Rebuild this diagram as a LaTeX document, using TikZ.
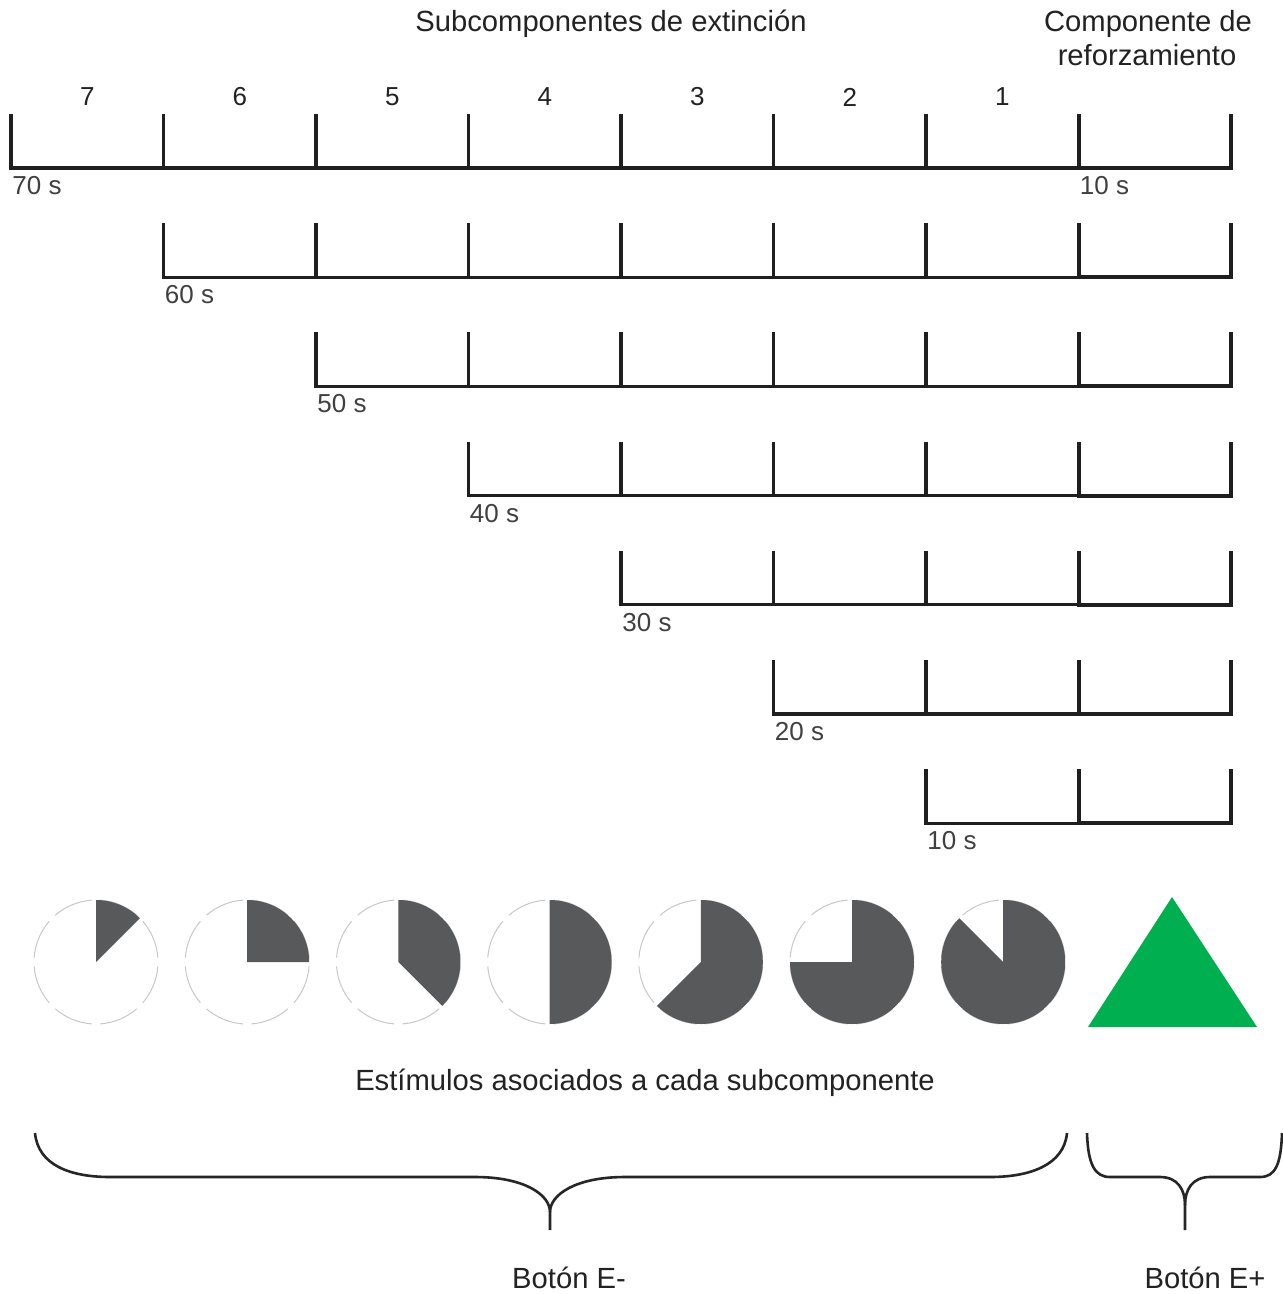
\documentclass[tikz,border=0pt]{standalone}
\usepackage{fontspec}
\setmainfont{Liberation Sans}
\usetikzlibrary{calc}
\definecolor{pieGray}{HTML}{58595B}
\definecolor{ringGray}{HTML}{C8C8C8}
\definecolor{reinfGreen}{HTML}{00B050}
\definecolor{txt}{HTML}{222222}
\definecolor{durtxt}{HTML}{404040}
\begin{document}
\begin{tikzpicture}[x=0.5pt,y=-0.5pt,
  extline/.style={line width=1.6pt, draw=black!88, line join=miter},
  reinfline/.style={line width=2pt, draw=black!88, line join=miter},
  title/.style={font=\fontsize{14.6}{17.5}\selectfont, text=txt, inner sep=0pt},
  numlab/.style={font=\fontsize{13}{15}\selectfont, text=txt, inner sep=0pt},
  dur/.style={font=\fontsize{13}{15}\selectfont, text=durtxt, inner sep=0pt, anchor=north west},
  ring/.style={draw=ringGray, line width=0.5pt},
  sector/.style={fill=pieGray},
  bracepath/.style={draw=black!85, line width=1.3pt}]
\useasboundingbox (0,0) rectangle (1283,1294);
\fill[white] (0,0) rectangle (1283,1294);

% headings
\node[title, anchor=base] (hExt) at (611,32) {Subcomponentes de extinción};
\node[title, anchor=base] (hRef1) at (1148,32) {Componente de};
\node[title, anchor=base] (hRef2) at (1147,66) {reforzamiento};

% subcomponent numbers
\foreach \n [count=\i from 0] in {7,6,5,4,3,2,1}
  \node[numlab] (num\n) at ({11+152.5*\i+76.25},97) {\n};

% timelines: one row per starting subcomponent
\foreach \r in {1,...,7} {
  \pgfmathsetmacro\yb{168+(\r-1)*109.2}
  \pgfmathtruncatemacro\s{\r-1}
  \pgfmathtruncatemacro\f{\s+1}
  \pgfmathtruncatemacro\sec{(8-\r)*10}
  \foreach \k in {\s,...,8} {
    \coordinate (t\r-\k) at ({11+152.5*\k},{\yb-54});
    \coordinate (b\r-\k) at ({11+152.5*\k},\yb);
  }
  \draw[extline] (t\r-\s) -- (b\r-\s) -- (b\r-7);
  \foreach \k in {\f,...,7}
    \draw[extline] (t\r-\k) -- (b\r-\k);
  \draw[reinfline] (t\r-7) -- (b\r-7) -- (b\r-8) -- (t\r-8);
  \node[dur] (d\r) at ({11+152.5*\s+1},{\yb+8}) {\sec\ s};
}
\node[dur] (dR) at ({11+152.5*7+1},176) {10 s};

% clock stimuli (y axis points down, so -90 is the top and angles grow clockwise)
\foreach \k [count=\i from 0] in {1,...,7} {
  \coordinate (c\k) at ({96+151.2*\i},962);
  \foreach \a in {0,45,...,315}
    \draw[ring] ($(c\k)+({\a+4}:62)$) arc[start angle={\a+4}, end angle={\a+41}, radius=62];
  \fill[sector] (c\k) -- ++(-90:62) arc[start angle=-90, end angle={-90+45*\k}, radius=62] -- cycle;
}

% reinforcement stimulus
\coordinate (triTop) at (1172,897);
\coordinate (triL) at (1088,1027);
\coordinate (triR) at (1257,1027);
\fill[reinfGreen] (triTop) -- (triR) -- (triL) -- cycle;

\node[title, anchor=base] (hStim) at (645,1090) {Estímulos asociados a cada subcomponente};

% braces
\coordinate (bAl) at (35,1133);
\coordinate (bAt) at (550,1230);
\coordinate (bAr) at (1067,1133);
\draw[bracepath] (bAl) .. controls (38,1165) and (70,1177) .. (110,1177)
  -- (475,1177) .. controls (525,1177) and (550,1195) .. (550,1212) -- (bAt);
\draw[bracepath] (bAr) .. controls (1064,1165) and (1030,1177) .. (990,1177)
  -- (625,1177) .. controls (575,1177) and (550,1195) .. (550,1212);
\coordinate (bBl) at (1087,1133);
\coordinate (bBt) at (1185,1230);
\coordinate (bBr) at (1282,1133);
\draw[bracepath] (bBl) .. controls (1088,1165) and (1095,1177) .. (1110,1177)
  -- (1160,1177) .. controls (1178,1177) and (1185,1190) .. (1185,1205) -- (bBt);
\draw[bracepath] (bBr) .. controls (1281,1165) and (1275,1177) .. (1260,1177)
  -- (1210,1177) .. controls (1192,1177) and (1185,1190) .. (1185,1205);

\node[title, anchor=base] (lblNeg) at (569,1288) {Botón E-};
\node[title, anchor=base] (lblPos) at (1205,1288) {Botón E+};
\end{tikzpicture}
\end{document}
